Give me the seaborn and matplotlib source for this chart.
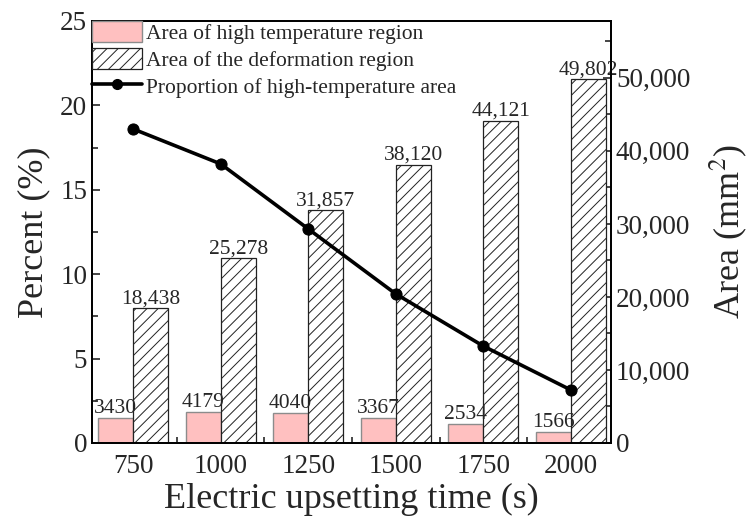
import numpy as np
import pandas as pd
import matplotlib
matplotlib.use("Agg")
import matplotlib.pyplot as plt
from matplotlib.patches import Patch
from matplotlib.lines import Line2D
from matplotlib.ticker import MultipleLocator, FuncFormatter, FixedLocator
import seaborn as sns

# Electric upsetting time (s)
times = ["750", "1000", "1250", "1500", "1750", "2000"]
# Area of high temperature region (mm^2)
area_high = [3430, 4179, 4040, 3367, 2534, 1566]
# Area of the deformation region (mm^2)
area_deform = [18438, 25278, 31857, 38120, 44121, 49802]
# Proportion of high-temperature area (%)
percent_high = [18.60, 16.53, 12.68, 8.83, 5.74, 3.14]

series_names = ["Area of high temperature region",
                "Area of the deformation region",
                "Proportion of high-temperature area"]

pink = "#FFC0C0"
TICK_FS = 19.5
LABEL_FS = 26
VALUE_FS = 15.5
LEGEND_FS = 15.5

sns.set_style("ticks")
plt.rcParams["font.family"] = ["Liberation Serif", "DejaVu Serif"]
plt.rcParams["hatch.linewidth"] = 0.7
plt.rcParams["mathtext.fontset"] = "stix"

fig = plt.figure(figsize=(7.48, 5.23), dpi=100)
ax1 = fig.add_axes([0.123, 0.153, 0.694, 0.807])
ax2 = ax1.twinx()

df = pd.DataFrame({
    "time": times * 2,
    "area": area_high + area_deform,
    "series": [series_names[0]] * len(times) + [series_names[1]] * len(times),
})

sns.barplot(data=df, x="time", y="area", hue="series", order=times,
            hue_order=series_names[:2], palette=[pink, "white"],
            width=0.8, saturation=1, ax=ax2, legend=False)

pink_bars, hatch_bars = ax2.containers[0], ax2.containers[1]
for p in pink_bars:
    p.set_edgecolor("#8c8c8c")
    p.set_linewidth(1.0)
for p in hatch_bars:
    p.set_facecolor("white")
    p.set_edgecolor("#222222")
    p.set_linewidth(0.9)
    p.set_hatch("///")

ax2.bar_label(pink_bars, labels=[str(v) for v in area_high],
              fontsize=VALUE_FS, padding=0)
ax2.bar_label(hatch_bars, labels=[f"{v:,}" for v in area_deform],
              fontsize=VALUE_FS, padding=0)

x_pos = np.arange(len(times))
sns.lineplot(x=x_pos, y=percent_high, ax=ax1, color="black", lw=2.6,
             marker="o", markersize=8, markeredgecolor="black")

# Left axis: percent
ax1.set_ylim(0, 25)
ax1.yaxis.set_major_locator(MultipleLocator(5))
ax1.yaxis.set_minor_locator(MultipleLocator(2.5))
ax1.set_ylabel("Percent (%)", fontsize=LABEL_FS, labelpad=7)

# Right axis: area
ax2.set_ylim(0, 57800)
ax2.yaxis.set_major_locator(MultipleLocator(10000))
ax2.yaxis.set_minor_locator(MultipleLocator(5000))
ax2.yaxis.set_major_formatter(FuncFormatter(lambda v, _: f"{int(v):,}"))
ax2.set_ylabel("Area (mm$^2$)", fontsize=LABEL_FS, labelpad=12)

# Shared x axis
ax1.set_xlim(-0.47, 5.46)
ax1.set_xticks(x_pos)
ax1.set_xticklabels(times)
ax1.xaxis.set_minor_locator(FixedLocator(x_pos[:-1] + 0.5))
ax1.set_xlabel("Electric upsetting time (s)", fontsize=LABEL_FS, labelpad=3)

ax1.tick_params(axis="both", which="major", direction="in", labelsize=TICK_FS,
                width=1.2, length=6)
ax1.tick_params(axis="x", which="major", length=0, pad=8)
ax1.tick_params(axis="x", which="minor", direction="in", length=4, width=1.2)
ax1.tick_params(axis="y", which="minor", direction="in", length=4, width=1.2)
ax2.tick_params(axis="y", which="major", direction="in", labelsize=TICK_FS,
                width=1.2, length=6)
ax2.tick_params(axis="y", which="minor", direction="in", length=4, width=1.2)

for ax in (ax1, ax2):
    for s in ax.spines.values():
        s.set_linewidth(1.3)
        s.set_color("black")

# Line layer above the bars
ax1.set_zorder(ax2.get_zorder() + 1)
ax1.patch.set_visible(False)

handles = [
    Patch(facecolor=pink, edgecolor="#8c8c8c", linewidth=1.0),
    Patch(facecolor="white", edgecolor="#222222", linewidth=0.9, hatch="///"),
    Line2D([], [], color="black", lw=2.6, marker="o", markersize=7),
]
ax1.legend(handles, series_names, loc="upper left", bbox_to_anchor=(0, 1),
           borderaxespad=0, borderpad=0.02, frameon=False, fontsize=LEGEND_FS,
           handlelength=2.3, handleheight=1.1, handletextpad=0.2,
           labelspacing=0.2)

fig.savefig("out.png", dpi=100)
